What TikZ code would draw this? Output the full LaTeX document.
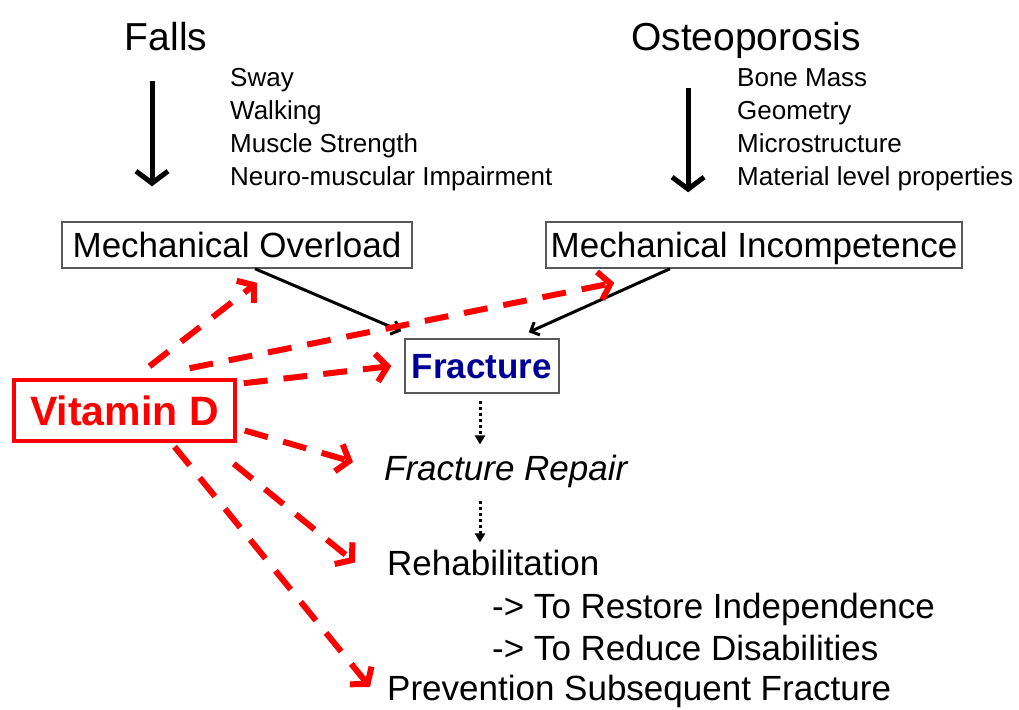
\documentclass[tikz,border=0pt]{standalone}
\usepackage{fontspec}
\setmainfont{Liberation Sans}
\usetikzlibrary{arrows.meta}
\definecolor{vitred}{HTML}{FF0000}
\definecolor{fracblue}{HTML}{000096}
\definecolor{boxgray}{HTML}{595959}

\tikzset{
  bigtitle/.style={font=\fontsize{39}{47}\selectfont, inner sep=0pt},
  item/.style={font=\fontsize{26}{31}\selectfont, anchor=base west, inner sep=0pt},
  stage/.style={font=\fontsize{35}{42}\selectfont, anchor=base west, inner sep=0pt},
  mechbox/.style={draw=boxgray, line width=1.5pt, font=\fontsize{35}{42}\selectfont,
    text height=25pt, text depth=0pt, minimum height=46pt, inner sep=0pt},
  bigarrow/.style={line width=5pt, -{Straight Barb[length=12pt,width=32pt]}},
  thinarrow/.style={line width=3pt, -{Straight Barb[length=7pt,width=14pt]}},
  dotarrow/.style={line width=3pt, dash pattern=on 3pt off 3pt, -{Triangle[length=9pt,width=10pt]}},
  vitarrow/.style={vitred, line width=6pt, dash pattern=on 24pt off 16pt,
    -{Straight Barb[length=11pt,width=28pt]}}
}

\begin{document}
\begin{tikzpicture}[x=1pt,y=-1pt]
  \useasboundingbox (0,0) rectangle (1019,709);

  % the two causes
  \node[bigtitle, anchor=base] (falls) at (166,51) {Falls};
  \node[bigtitle, anchor=base west] (osteo) at (631,51) {Osteoporosis};
  \foreach \txt [count=\i] in {Sway, Walking, Muscle Strength, Neuro-muscular Impairment}
    \node[item] (fall\i) at (230,53+33*\i) {\txt};
  \foreach \txt [count=\i] in {Bone Mass, Geometry, Microstructure, Material level properties}
    \node[item] (bone\i) at (737,53+33*\i) {\txt};

  % boxes
  \node[mechbox, minimum width=350pt] (overload) at (237,245) {Mechanical Overload};
  \node[mechbox, minimum width=416pt] (incomp) at (754,245) {Mechanical Incompetence};
  \node[mechbox, minimum width=154pt, minimum height=54pt, font=\fontsize{35}{42}\selectfont\bfseries,
    text=fracblue] (fracture) at (482,366) {Fracture};
  \node[draw=vitred, line width=3.5pt, minimum width=221pt, minimum height=61pt, inner sep=0pt,
    text height=29pt, text depth=0pt, text=vitred, font=\fontsize{41}{49}\selectfont\bfseries]
    (vitd) at (124.5,410.5) {Vitamin D};

  % outcomes
  \node[stage, font=\fontsize{35}{42}\selectfont\itshape] (repair) at (384,480) {Fracture Repair};
  \node[stage] (rehab) at (387,575) {Rehabilitation};
  \node[stage] (restore) at (492,618) {-> To Restore Independence};
  \node[stage] (reduce) at (492,660) {-> To Reduce Disabilities};
  \node[stage] (prevent) at (387,700) {Prevention Subsequent Fracture};

  % black arrows
  \draw[bigarrow, shorten >=35pt] ([xshift=-14pt,yshift=-29pt]falls.south) -- ([xshift=-14pt]falls.south |- overload.north);
  \draw[bigarrow, shorten >=29pt] ([xshift=-58pt,yshift=-29pt]osteo.south) -- ([xshift=-58pt]osteo.south |- incomp.north);
  \draw[thinarrow] ([xshift=18pt]overload.south) -- ([shift={(-3pt,7pt)}]fracture.north west);
  \draw[thinarrow] ([xshift=-84pt]incomp.south) -- ([shift={(-31pt,6pt)}]fracture.north east);
  \draw[dotarrow, shorten <=7pt, shorten >=10pt] ([xshift=-2pt]fracture.south) -- ([xshift=-2pt]fracture.south |- repair.north);
  \draw[dotarrow, shorten <=14pt, shorten >=7pt] ([xshift=-2pt]fracture.south |- repair.south) -- ([xshift=-2pt]fracture.south |- rehab.north);

  % vitamin D effects
  \draw[vitarrow] ([shift={(25pt,12pt)}]vitd.north) -- ([shift={(20pt,-14pt)}]overload.south);
  \draw[vitarrow] ([shift={(65pt,10pt)}]vitd.north) -- ([shift={(69pt,-14pt)}]incomp.south west);
  \draw[vitarrow] ([shift={(7pt,-5pt)}]vitd.north east) -- ([xshift=-13pt]fracture.west);
  \draw[vitarrow] ([shift={(8pt,-20pt)}]vitd.east) -- ([shift={(-31pt,9pt)}]repair.west);
  \draw[vitarrow] ([shift={(-3pt,-21pt)}]vitd.south east) -- ([xshift=-32pt]rehab.west);
  \draw[vitarrow] ([shift={(50pt,-4pt)}]vitd.south) -- ([shift={(-17pt,4pt)}]prevent.west);
\end{tikzpicture}
\end{document}
